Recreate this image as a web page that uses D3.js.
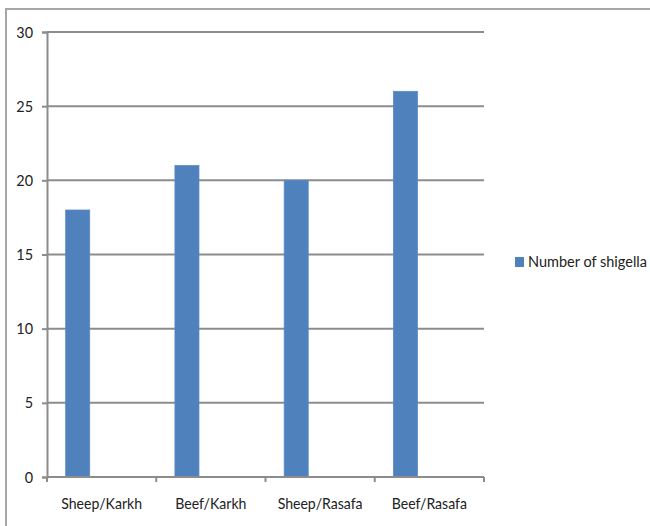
<!DOCTYPE html>
<html>
<head>
<meta charset="utf-8">
<script src="https://cdn.jsdelivr.net/npm/d3@7"></script>
<style>
  html, body { margin: 0; padding: 0; background: #fff; }
  svg { display: block; }
  text { font-family: Lato, "Liberation Sans", sans-serif; fill: #222; }
</style>
</head>
<body>
<svg id="chart" width="650" height="526"></svg>
<script>
// Shigella counts per meat type and district
const categories = ["Sheep/Karkh", "Beef/Karkh", "Sheep/Rasafa", "Beef/Rasafa"];
const shigellaCounts = [18, 21, 20, 26];
const seriesName = "Number of shigella";
const yTicks = [0, 5, 10, 15, 20, 25, 30];

const svg = d3.select("#chart");

// narrow the glyphs a little so labels keep a condensed look
function condense(sel, factor) {
  sel.each(function () {
    const w = this.getComputedTextLength();
    d3.select(this).attr("textLength", w * factor).attr("lengthAdjust", "spacingAndGlyphs");
  });
}

// outer frame of the chart area
svg.append("rect")
  .attr("x", 6).attr("y", 9)
  .attr("width", 660).attr("height", 540)
  .attr("fill", "#fff")
  .attr("stroke", "#a6a6a6")
  .attr("stroke-width", 2);

const plot = { left: 47, right: 484, top: 32, bottom: 477 };

const x = d3.scaleBand()
  .domain(categories)
  .range([plot.left, plot.right])
  .padding(0);

const y = d3.scaleLinear()
  .domain([0, 30])
  .range([plot.bottom, plot.top]);

const gridColor = "#8c8c8c";

// horizontal gridlines
svg.append("g")
  .selectAll("line")
  .data(yTicks.filter(d => d > 0))
  .join("line")
  .attr("x1", plot.left).attr("x2", plot.right)
  .attr("y1", d => y(d)).attr("y2", d => y(d))
  .attr("stroke", gridColor)
  .attr("stroke-width", 2);

// bars sit in the left part of each category slot
const barOffset = 0.171, barWidth = 0.22;
svg.append("g")
  .selectAll("rect")
  .data(shigellaCounts)
  .join("rect")
  .attr("x", (d, i) => x(categories[i]) + x.bandwidth() * barOffset)
  .attr("width", x.bandwidth() * barWidth)
  .attr("y", d => y(d))
  .attr("height", d => y(0) - y(d))
  .attr("fill", "#4f81bd")
  .attr("stroke", "#5a8ac6")
  .attr("stroke-width", 0.8);

// y axis
const yAxis = d3.axisLeft(y).tickValues(yTicks).tickSize(5).tickPadding(9);
const gy = svg.append("g")
  .attr("transform", `translate(${plot.left},0)`)
  .call(yAxis);
gy.select(".domain").attr("stroke", gridColor).attr("stroke-width", 2);
gy.selectAll(".tick line").attr("stroke", gridColor).attr("stroke-width", 2);
gy.selectAll(".tick text")
  .attr("font-size", 16)
  .attr("fill", "#222")
  .style("font-family", "Lato, sans-serif")
  .call(condense, 0.9);

// x axis with ticks on category boundaries
const gx = svg.append("g")
  .attr("transform", `translate(0,${plot.bottom})`);
gx.append("line")
  .attr("x1", plot.left).attr("x2", plot.right)
  .attr("stroke", gridColor).attr("stroke-width", 2);
const boundaries = categories.map(c => x(c)).concat([plot.right]);
gx.selectAll("line.tick")
  .data(boundaries)
  .join("line")
  .attr("class", "tick")
  .attr("x1", d => d).attr("x2", d => d)
  .attr("y1", 0).attr("y2", 5)
  .attr("stroke", gridColor).attr("stroke-width", 2);
gx.selectAll("text")
  .data(categories)
  .join("text")
  .attr("x", d => x(d) + x.bandwidth() / 2)
  .attr("y", 26)
  .attr("dy", "0.35em")
  .attr("text-anchor", "middle")
  .attr("font-size", 16)
  .text(d => d)
  .call(condense, 0.88);

// legend
const legend = svg.append("g").attr("transform", "translate(515,257)");
legend.append("rect")
  .attr("width", 9).attr("height", 10)
  .attr("fill", "#4f81bd");
legend.append("text")
  .attr("x", 13).attr("y", 5)
  .attr("dy", "0.35em")
  .attr("font-size", 14.5)
  .text(seriesName);
</script>
</body>
</html>
